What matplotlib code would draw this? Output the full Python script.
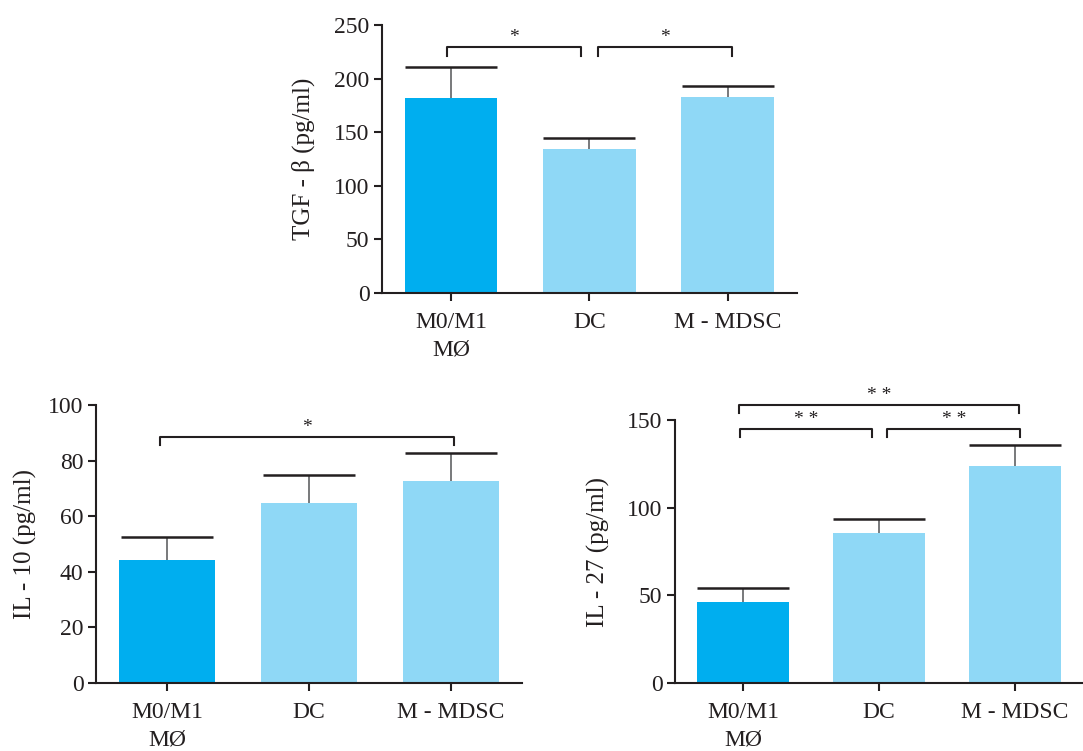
import matplotlib.pyplot as plt

plt.rcParams['font.family'] = ['Liberation Serif', 'DejaVu Serif']

categories = ['M0/M1\nMØ', 'DC', 'M - MDSC']
bar_colors = ['#00aeef', '#8fd8f6', '#8fd8f6']

tgf = [182, 134, 183]
tgf_err = [29, 11, 10]
il10 = [44.2, 64.7, 72.7]
il10_err = [8.3, 10.1, 10.0]
il27 = [46.2, 85.4, 123.8]
il27_err = [8.2, 8.3, 12.1]

# significance brackets: (x start, x end, y of bar, y of ends, label)
tgf_sig = [(-0.03, 0.94, 229.5, 221, '*'), (1.06, 2.03, 229.5, 221, '*')]
il10_sig = [(-0.05, 2.02, 88.5, 85.6, '*')]
il27_sig = [(-0.03, 2.03, 158.4, 153.8, '* *'),
            (-0.02, 0.95, 144.7, 140.2, '* *'),
            (1.06, 2.04, 144.7, 140.2, '* *')]

ink = '#231f20'


def draw_panel(ax, values, errs, ymax, yticks, ylabel, sig, pad):
    x = range(len(values))
    ax.bar(x, values, width=0.67, color=bar_colors, zorder=2)
    eb = ax.errorbar(x, values, yerr=[[0] * len(errs), errs], fmt='none',
                     ecolor='#6d6e71', elinewidth=1.3, capsize=33, capthick=1.8,
                     zorder=1)
    eb[1][0].set_visible(False)
    eb[1][1].set_markeredgecolor(ink)
    for x0, x1, y, yd, label in sig:
        ax.plot([x0, x0, x1, x1], [yd, y, y, yd], color=ink, lw=1.5,
                clip_on=False)
        ax.annotate(label, ((x0 + x1) / 2, y), xytext=(0, 1),
                    textcoords='offset points', ha='center', va='bottom',
                    fontsize=14, color=ink, annotation_clip=False)
    ax.set_xlim(-0.5, 2.5)
    ax.set_ylim(0, ymax)
    ax.set_yticks(yticks)
    ax.set_xticks(list(x))
    ax.set_xticklabels(categories, linespacing=1.35)
    ax.set_ylabel(ylabel, fontsize=18, color=ink, labelpad=pad)
    for s in ['top', 'right']:
        ax.spines[s].set_visible(False)
    for s in ['left', 'bottom']:
        ax.spines[s].set_linewidth(1.5)
        ax.spines[s].set_color(ink)
    ax.tick_params(direction='out', length=6, width=1.5, colors=ink,
                   labelsize=17, pad=3)
    ax.tick_params(axis='x', pad=8)


fig = plt.figure(figsize=(10.83, 7.51), dpi=100)

ax1 = fig.add_axes([0.3527, 0.6099, 0.3832, 0.3568])
draw_panel(ax1, tgf, tgf_err, 250, [0, 50, 100, 150, 200, 250],
           'TGF - β (pg/ml)', tgf_sig, 14)

ax2 = fig.add_axes([0.0886, 0.0905, 0.3934, 0.3702])
draw_panel(ax2, il10, il10_err, 100, [0, 20, 40, 60, 80, 100],
           'IL - 10 (pg/ml)', il10_sig, 8)

ax3 = fig.add_axes([0.6233, 0.0905, 0.3767, 0.3502])
draw_panel(ax3, il27, il27_err, 150, [0, 50, 100, 150],
           'IL - 27 (pg/ml)', il27_sig, 12)

fig.savefig('out.png', dpi=100)
